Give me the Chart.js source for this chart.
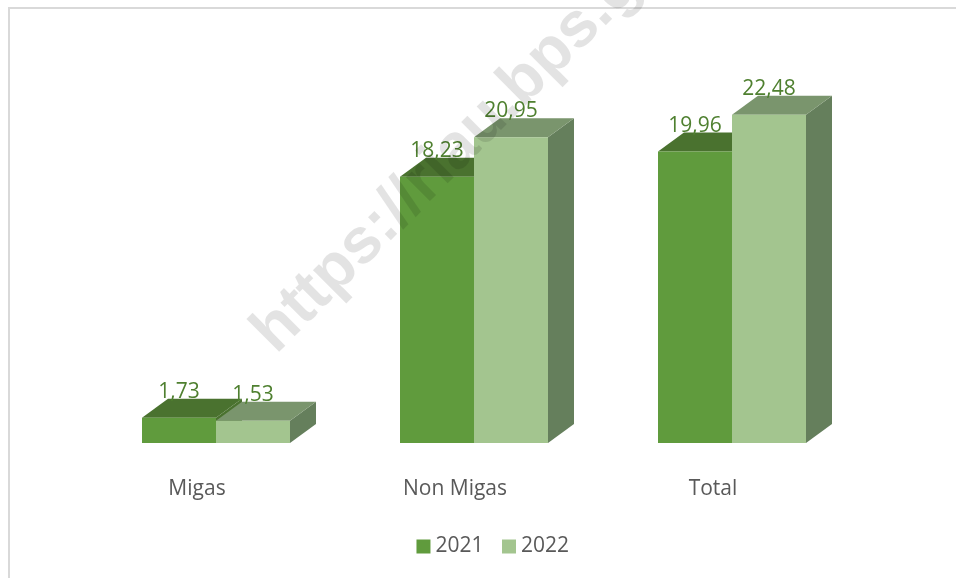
<!DOCTYPE html>
<html><head><meta charset="utf-8">
<style>html,body{margin:0;background:#fff;overflow:hidden}
#f{position:absolute;left:8px;top:7px;width:948px;height:571px;border-left:2px solid #d9d9d9;border-top:2px solid #d9d9d9;box-sizing:border-box}
canvas{position:absolute;left:0;top:0}</style>
<script src="https://cdn.jsdelivr.net/npm/chart.js@4"></script>
</head><body><div id="f"></div><canvas id="c" width="956" height="579"></canvas>
<script>
const categories = ["Migas", "Non Migas", "Total"];
const values2021 = [1.73, 18.23, 19.96];
const values2022 = [1.53, 20.95, 22.48];
const seriesNames = ["2021", "2022"];
const watermark = "https://riau.bps.go.id";

const FRONT = ["#609B3D", "#A3C58F"], TOP = ["#4A722F", "#7A956D"], SIDE = ["#4A722F", "#657F5C"];
const DX = 26, DY = -19;
const FONT = "'Open Sans'";

const box3d = {
  id: "box3d",
  afterLayout(chart) {
    const l = chart.legend;
    l.left = 31; l.right = l.left + 929;
    l.top = 512;
  },
  beforeDatasetsDraw(chart) {
    const c = chart.ctx;
    chart.data.datasets.forEach((d, i) => {
      chart.getDatasetMeta(i).data.forEach(b => {
        const L = b.x - b.width / 2, R = b.x + b.width / 2, T = b.y, B = b.base;
        c.fillStyle = SIDE[i];
        c.beginPath(); c.moveTo(R, T); c.lineTo(R + DX, T + DY); c.lineTo(R + DX, B + DY); c.lineTo(R, B); c.closePath(); c.fill();
        c.fillStyle = TOP[i];
        c.beginPath(); c.moveTo(L, T); c.lineTo(L + DX, T + DY); c.lineTo(R + DX, T + DY); c.lineTo(R, T); c.closePath(); c.fill();
      });
    });
  },
  afterDatasetsDraw(chart) {
    const c = chart.ctx;
    c.save();
    c.font = "21px " + FONT; c.fillStyle = "#4F8030"; c.textAlign = "center"; c.textBaseline = "middle";
    chart.data.datasets.forEach((d, i) => {
      chart.getDatasetMeta(i).data.forEach((b, j) => {
        c.fillText(String(d.data[j].toFixed(2)).replace(".", ","), b.x, b.y - 26);
      });
    });
    c.restore();
  },
  afterDraw(chart) {
    const c = chart.ctx;
    c.save();
    c.translate(276, 355); c.rotate(-Math.PI / 4);
    c.font = "bold 64px 'Liberation Sans'"; c.fillStyle = "rgba(0,0,0,0.11)"; c.textBaseline = "alphabetic";
    c.fillText(watermark, 0, 0);
    c.restore();
  }
};

new Chart(document.getElementById("c"), {
  type: "bar",
  data: {
    labels: categories,
    datasets: [
      { label: seriesNames[0], data: values2021, backgroundColor: FRONT[0] },
      { label: seriesNames[1], data: values2022, backgroundColor: FRONT[1] }
    ]
  },
  options: {
    responsive: false,
    animation: false,
    layout: { padding: { left: 87, right: 95, top: 78, bottom: 0 } },
    datasets: { bar: { categoryPercentage: 148 / 258, barPercentage: 1 } },
    scales: {
      x: {
        grid: { display: false }, border: { display: false },
        ticks: { color: "#595959", font: { family: FONT, size: 21 }, labelOffset: -19, padding: 25, maxRotation: 0 },
        afterFit(s) { s.height = 136 - s.chart.legend.height; }
      },
      y: { display: false, min: 0, max: 25 }
    },
    plugins: {
      tooltip: { enabled: false },
      legend: {
        position: "bottom",
        labels: {
          color: "#595959", font: { family: FONT, size: 21 }, boxWidth: 3, boxHeight: 3, padding: 24,
          generateLabels(chart) {
            return chart.data.datasets.map((d, i) => ({
              text: d.label, fillStyle: FRONT[i], strokeStyle: FRONT[i], lineWidth: 11, datasetIndex: i, fontColor: "#595959"
            }));
          }
        }
      }
    }
  },
  plugins: [box3d]
});
</script></body></html>
